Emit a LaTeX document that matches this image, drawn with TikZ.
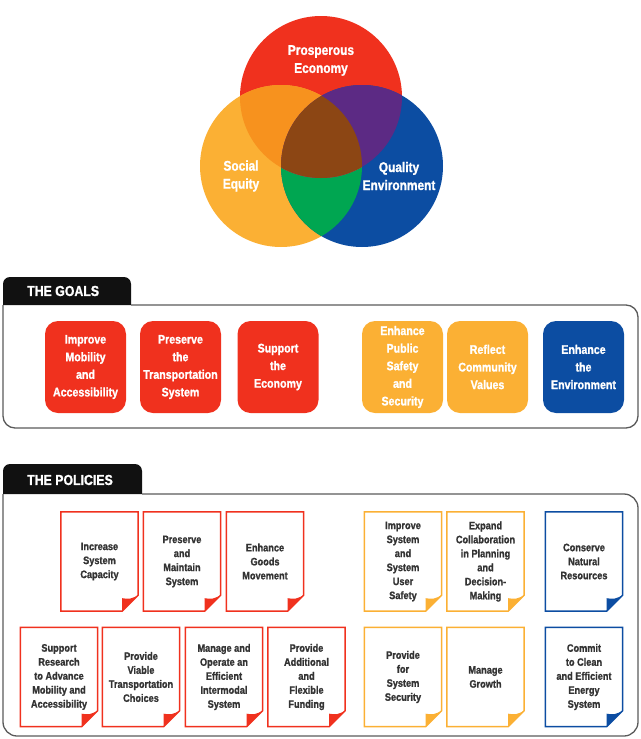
\documentclass[tikz,border=0pt]{standalone}
\usepackage{fontspec}
\setmainfont{Liberation Sans}[FakeStretch=0.85,BoldFeatures={FakeBold=1.2}]
\usepackage{tikz}
\usetikzlibrary{calc,positioning}

\definecolor{cred}{HTML}{F0311E}
\definecolor{cyel}{HTML}{FBB034}
\definecolor{cblue}{HTML}{0C4DA2}
\definecolor{corange}{HTML}{F7921E}
\definecolor{cpurple}{HTML}{5C2A84}
\definecolor{cgreen}{HTML}{00A651}
\definecolor{cbrown}{HTML}{8C4614}
\definecolor{ptext}{HTML}{333333}
\definecolor{framegray}{HTML}{5A5A5A}
\definecolor{tabfill}{HTML}{111111}

\begin{document}
\begin{tikzpicture}[x=1pt,y=1pt,
  vlabel/.style={align=center,text=white,font=\bfseries\fontsize{14}{18}\selectfont},
  tablabel/.style={anchor=west,inner sep=0pt,text=white,font=\bfseries\fontsize{14.5}{16}\selectfont},
  goal/.style={rounded corners=13pt,minimum width=81pt,minimum height=92pt,inner sep=0pt,
    align=center,text=white,font=\bfseries\fontsize{12.5}{17.6}\selectfont},
  policy/.style={minimum width=77pt,minimum height=99pt,inner sep=0pt,align=center,
    text=ptext,font=\bfseries\fontsize{10.8}{14}\selectfont},
  frame/.style={draw=framegray,line width=1.3pt}]
\useasboundingbox (0,0) rectangle (640,-739);

\coordinate (econ) at (321,-97);
\coordinate (soc) at (281,-166);
\coordinate (env) at (362,-166);
\fill[cred] (econ) circle[radius=81pt];
\fill[cyel] (soc) circle[radius=81pt];
\fill[cblue] (env) circle[radius=81pt];
\begin{scope}
  \clip (soc) circle[radius=81pt];
  \fill[cgreen] (env) circle[radius=81pt];
\end{scope}
\begin{scope}
  \clip (econ) circle[radius=81pt];
  \fill[corange] (soc) circle[radius=81pt];
  \fill[cpurple] (env) circle[radius=81pt];
  \clip (soc) circle[radius=81pt];
  \fill[cbrown] (env) circle[radius=81pt];
\end{scope}
\node[vlabel] (lecon) at (321,-60.5) {Prosperous\\Economy};
\node[vlabel] (lsoc) at (241,-176) {Social\\Equity};
\node[vlabel] (lenv) at (399,-176) {Quality\\Environment};

\fill[tabfill] (3,-305) -- (3,-284) arc[start angle=180,end angle=90,radius=7pt]
  -- (124,-277) arc[start angle=90,end angle=0,radius=7pt] -- (131,-305) -- cycle;
\node[tablabel] (tgoals) at (27,-291) {THE GOALS};
\draw[frame] (3,-305) -- (3,-416) arc[start angle=180,end angle=270,radius=12pt]
  -- (626,-428) arc[start angle=270,end angle=360,radius=12pt]
  -- (638,-317) arc[start angle=0,end angle=90,radius=12pt] -- (131,-305);

\foreach \nm/\px/\col/\txt in {gmob/85.5/cred/{Improve\\Mobility\\and\\Accessibility},
    gpres/180.5/cred/{Preserve\\the\\Transportation\\System},
    gecon/278/cred/{Support\\the\\Economy},
    gsafe/402.5/cyel/{Enhance\\Public\\Safety\\and\\Security},
    gcomm/487.5/cyel/{Reflect\\Community\\Values},
    genv/583.5/cblue/{Enhance\\the\\Environment}}{
  \node[goal,fill=\col] (\nm) at (\px,-367) {\txt};
}

\fill[tabfill] (3,-494) -- (3,-471) arc[start angle=180,end angle=90,radius=7pt]
  -- (135,-464) arc[start angle=90,end angle=0,radius=7pt] -- (142,-494) -- cycle;
\node[tablabel] (tpolicies) at (27,-480) {THE POLICIES};
\draw[frame] (3,-494) -- (3,-722) arc[start angle=180,end angle=270,radius=14pt]
  -- (624,-736) arc[start angle=270,end angle=360,radius=14pt]
  -- (638,-508) arc[start angle=0,end angle=90,radius=14pt] -- (142,-494);

\foreach \nm/\px/\py/\col/\txt in {pcap/99.5/561.5/cred/{Increase\\System\\Capacity},
    pmaint/182/561.5/cred/{Preserve\\and\\Maintain\\System},
    pgoods/265/561.5/cred/{Enhance\\Goods\\Movement},
    psafe/403/561.5/cyel/{Improve\\System\\and\\System\\User\\Safety},
    pcollab/485.5/561.5/cyel/{Expand\\Collaboration\\in Planning\\and\\Decision-\\Making},
    pnat/584/561.5/cblue/{Conserve\\Natural\\Resources},
    presearch/59/677/cred/{Support\\Research\\to Advance\\Mobility and\\Accessibility},
    pchoice/141/677/cred/{Provide\\Viable\\Transportation\\Choices},
    pinter/224/677/cred/{Manage and\\Operate an\\Efficient\\Intermodal\\System},
    pfund/306.5/677/cred/{Provide\\Additional\\and\\Flexible\\Funding},
    psec/403/677/cyel/{Provide\\for\\System\\Security},
    pgrowth/485.5/677/cyel/{Manage\\Growth},
    penergy/584/677/cblue/{Commit\\to Clean\\and Efficient\\Energy\\System}}{
  \node[policy] (\nm) at (\px,-\py) {\txt};
  \draw[color=\col,line width=1.5pt] (\nm.north west) -- (\nm.north east)
    -- ([yshift=16pt]\nm.south east) -- ([xshift=-16pt]\nm.south east)
    -- (\nm.south west) -- cycle;
  \fill[fill=\col] ([yshift=16pt]\nm.south east)
    .. controls ([xshift=-8pt,yshift=12pt]\nm.south east) .. ([xshift=-16pt,yshift=13pt]\nm.south east)
    -- ([xshift=-16pt]\nm.south east) -- cycle;
}
\end{tikzpicture}
\end{document}
